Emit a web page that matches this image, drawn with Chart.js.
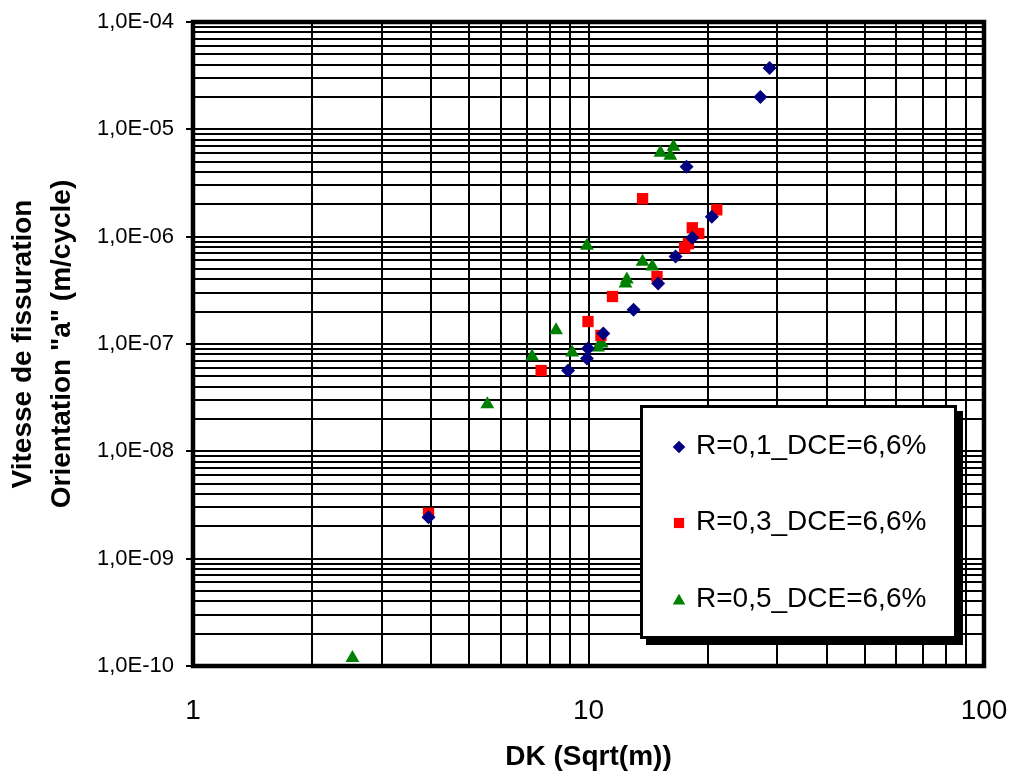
<!DOCTYPE html>
<html><head><meta charset="utf-8">
<script src="https://cdn.jsdelivr.net/npm/chart.js@4/dist/chart.umd.min.js"></script>
<style>html,body{margin:0;padding:0;background:#fff;overflow:hidden}#wrap{width:1011px;height:774px;position:relative}</style>
</head><body><div id="wrap"><canvas id="c"></canvas></div>
<script>
const seriesLabels = ['R=0,1_DCE=6,6%', 'R=0,3_DCE=6,6%', 'R=0,5_DCE=6,6%'];
const seriesColors = ['#000080', '#FF0000', '#008000'];
const seriesStyles = ['rectRot', 'rect', 'triangle'];
const seriesRadius = [7, 8, 8];

const dkR01 = [3.94, 8.88, 9.91, 9.97, 10.9, 13.0, 15.0, 16.6, 18.3, 20.5, 17.7, 27.2, 28.7];
const vR01  = [2.43e-9, 5.66e-8, 7.33e-8, 9.08e-8, 1.25e-7, 2.09e-7, 3.66e-7, 6.52e-7, 9.79e-7, 1.53e-6, 4.48e-6, 2.0e-5, 3.73e-5];

const dkR03 = [3.94, 7.59, 9.97, 10.75, 11.5, 13.7, 14.9, 17.5, 17.9, 18.3, 19.0, 21.1];
const vR03  = [2.65e-9, 5.66e-8, 1.62e-7, 1.2e-7, 2.77e-7, 2.26e-6, 4.25e-7, 7.9e-7, 8.6e-7, 1.21e-6, 1.07e-6, 1.78e-6];

const dkR05 = [2.53, 5.55, 7.20, 8.28, 9.09, 9.91, 10.57, 10.8, 12.4, 12.5, 13.7, 14.5, 15.2, 16.1, 16.4];
const vR05  = [1.19e-10, 2.74e-8, 7.65e-8, 1.34e-7, 8.34e-8, 8.25e-7, 9.28e-8, 1.01e-7, 3.66e-7, 3.98e-7, 5.85e-7, 5.26e-7, 6.04e-6, 5.67e-6, 6.88e-6];

const xTickLabels = ['1', '10', '100'];
const yTickLabels = ['1,0E-10', '1,0E-09', '1,0E-08', '1,0E-07', '1,0E-06', '1,0E-05', '1,0E-04'];
const xTitle = 'DK (Sqrt(m))';
const yTitle = ['Vitesse de fissuration', 'Orientation "a" (m/cycle)'];

const FONT = "'Liberation Sans', Arial, Helvetica, sans-serif";

function logTicks(minExp, maxExp) {
  const t = [];
  for (let e = minExp; e < maxExp; e++) {
    for (let m = 1; m <= 9; m++) t.push({value: m * Math.pow(10, e), major: m === 1});
  }
  t.push({value: Math.pow(10, maxExp), major: true});
  return t;
}

function toPts(xs, ys) { return xs.map((x, i) => ({x: x, y: ys[i]})); }

const allX = [dkR01, dkR03, dkR05];
const allY = [vR01, vR03, vR05];
const datasets = seriesLabels.map((lab, i) => ({
  label: lab,
  data: toPts(allX[i], allY[i]),
  pointStyle: seriesStyles[i],
  pointRadius: seriesRadius[i],
  pointHoverRadius: seriesRadius[i],
  backgroundColor: seriesColors[i],
  borderColor: seriesColors[i],
  borderWidth: 0,
  pointBorderWidth: 0,
  clip: false
}));

const frameBox = {
  id: 'frameBox',
  beforeDatasetsDraw(chart) {
    const a = chart.chartArea, ctx = chart.ctx;
    ctx.save();
    ctx.strokeStyle = '#000';
    ctx.lineWidth = 4.5;
    ctx.strokeRect(a.left, a.top, a.right - a.left, a.bottom - a.top);
    ctx.restore();
  }
};

const boxLegend = {
  id: 'boxLegend',
  afterDraw(chart) {
    const ctx = chart.ctx;
    const L = 640, T = 405, R = 957, B = 639, sh = 6;
    ctx.save();
    ctx.fillStyle = '#000';
    ctx.fillRect(L + sh, T + sh, R - L, B - T);
    ctx.fillStyle = '#fff';
    ctx.fillRect(L, T, R - L, B - T);
    ctx.strokeStyle = '#000';
    ctx.lineWidth = 3;
    ctx.strokeRect(L + 1.5, T + 1.5, R - L - 3, B - T - 3);
    const rows = [446, 522, 599];
    ctx.font = '28px ' + FONT;
    ctx.textBaseline = 'middle';
    ctx.textAlign = 'left';
    chart.data.datasets.forEach((ds, i) => {
      ctx.fillStyle = ds.backgroundColor;
      ctx.strokeStyle = ds.borderColor;
      Chart.helpers.drawPoint(ctx, {pointStyle: ds.pointStyle, radius: ds.pointRadius * 0.9, rotation: 0, borderWidth: 0}, 679, rows[i] + (ds.pointStyle === 'triangle' ? 2 : 1));
      ctx.fillStyle = '#000';
      ctx.fillText(ds.label, 696, rows[i]);
    });
    ctx.restore();
  }
};

new Chart(document.getElementById('c'), {
  type: 'scatter',
  data: {datasets: datasets},
  plugins: [frameBox, boxLegend],
  options: {
    responsive: true,
    maintainAspectRatio: false,
    animation: false,
    events: [],
    layout: {padding: {left: 0, top: 22, right: 27, bottom: 0}},
    plugins: {legend: {display: false}, tooltip: {enabled: false}},
    scales: {
      x: {
        type: 'logarithmic',
        min: 1, max: 100,
        afterBuildTicks: s => { s.ticks = logTicks(0, 2); },
        afterFit: s => { s.height = 108; s.paddingLeft = 0; s.paddingRight = 0; },
        grid: {color: '#000', lineWidth: 2, drawTicks: false},
        border: {display: false},
        ticks: {
          autoSkip: false, maxRotation: 0, padding: 28, color: '#000',
          font: {family: FONT, size: 28},
          callback: function (v, i, t) { return t[i].major ? xTickLabels[Math.round(Math.log10(v))] : ''; }
        },
        title: {display: true, text: xTitle, color: '#000', font: {family: FONT, size: 28, weight: 'bold'}, padding: {top: 0, bottom: 0}}
      },
      y: {
        type: 'logarithmic',
        min: 1e-10, max: 1e-4,
        afterBuildTicks: s => { s.ticks = logTicks(-10, -4); },
        afterFit: s => { s.width = 193; s.paddingTop = 0; s.paddingBottom = 0; },
        grid: {
          color: '#000', lineWidth: 2, drawTicks: true, tickLength: 7, tickWidth: 2,
          tickColor: c => (c.tick && c.tick.major) ? '#000' : 'rgba(0,0,0,0)'
        },
        border: {display: false},
        ticks: {
          autoSkip: false, padding: 12, color: '#000',
          font: {family: FONT, size: 22},
          callback: function (v, i, t) { return t[i].major ? yTickLabels[Math.round(Math.log10(v)) + 10] : ''; }
        },
        title: {display: true, text: yTitle, color: '#000', font: {family: FONT, size: 28, weight: 'bold', lineHeight: 1.375}, padding: {top: 4.5, bottom: 0}}
      }
    }
  }
});
</script>
</body></html>
